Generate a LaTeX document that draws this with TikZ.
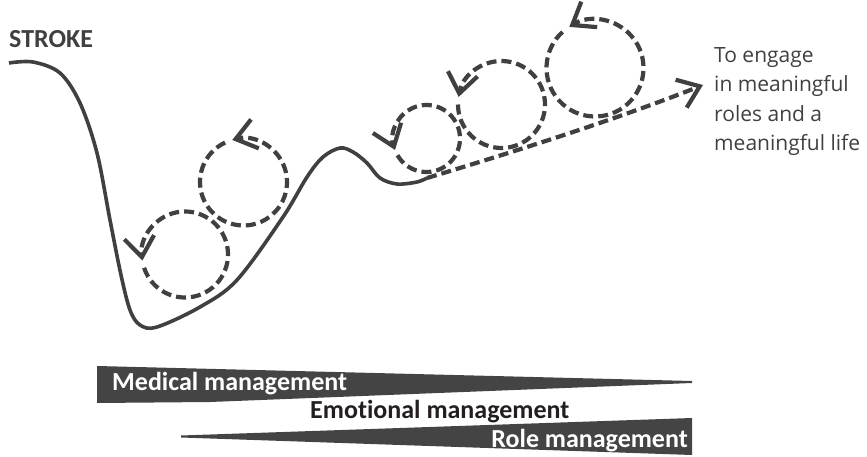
\documentclass[tikz,border=0pt]{standalone}
\usepackage{fontspec}
\setmainfont{Carlito}[Ligatures=NoCommon]
\newfontfamily\goalfont{Open Sans}
\usetikzlibrary{arrows.meta}
\definecolor{ink}{HTML}{404040}
\definecolor{barfill}{HTML}{444444}
\definecolor{deep}{HTML}{231F20}
\begin{document}
\begin{tikzpicture}[x=1pt,y=1pt,>={Straight Barb[length=20pt,width=30pt]},
  road/.style={ink,line width=3.6pt},
  wheel/.style={ink,line width=4.2pt,dash pattern=on 10pt off 5pt,->},
  bar/.style={fill=barfill,draw=none},
  tag/.style={inner sep=0pt,font={\fontsize{26}{28}\selectfont\bfseries}}]
\useasboundingbox (0,0) rectangle (867,-457);
\node[tag,anchor=base west,ink] (stroke) at (9,-48) {STROKE};
\draw[road] plot[smooth,tension=0.55] coordinates {(9,-63) (33,-62) (60,-73) (80,-103) (97,-153) (110,-220) (121,-275) (130,-310) (140,-325) (157,-327) (200,-307) (237,-280) (283,-217) (307,-177) (323,-157) (340,-148) (353,-152) (367,-163) (380,-178) (397,-184) (417,-182) (427,-178)};
\coordinate (sEnd) at (427,-178);
\coordinate (goal) at (703,-85);
\draw[wheel] (sEnd) .. controls (520,-150) and (620,-118) .. (goal);
\coordinate (cA) at (185,-254.5);
\coordinate (cB) at (243.5,-182);
\coordinate (cC) at (426.5,-138.5);
\coordinate (cD) at (501.5,-104.5);
\coordinate (cE) at (595,-68);
\draw[wheel] (cA) ++(-162:43) arc[start angle=-162,end angle=188,radius=43];
\draw[wheel] (cB) ++(115:43.5) arc[start angle=115,end angle=465,radius=43.5];
\draw[wheel] (cC) ++(-150:33.5) arc[start angle=-150,end angle=200,radius=33.5];
\draw[wheel] (cD) ++(-180:43.5) arc[start angle=-180,end angle=170,radius=43.5];
\draw[wheel] (cE) ++(132:48.5) arc[start angle=132,end angle=482,radius=48.5];
\node[anchor=base west,inner sep=0pt,align=left,ink,font={\goalfont\fontsize{21}{29.6}\selectfont}] (life) at (714,-151) {To engage\\in meaningful\\roles and a\\meaningful life};
\fill[bar] (97,-366) -- (692,-381) -- (692,-383) -- (210,-402) -- (97,-403) -- cycle;
\fill[bar] (181,-435.5) -- (692,-418) -- (692,-455) -- (181,-437.5) -- cycle;
\node[tag,anchor=base west,white] (medical) at (112,-390) {Medical management};
\node[tag,anchor=base west,deep] (emotional) at (310,-418) {Emotional management};
\node[tag,anchor=base east,white] (role) at (688,-447) {Role management};
\end{tikzpicture}
\end{document}
